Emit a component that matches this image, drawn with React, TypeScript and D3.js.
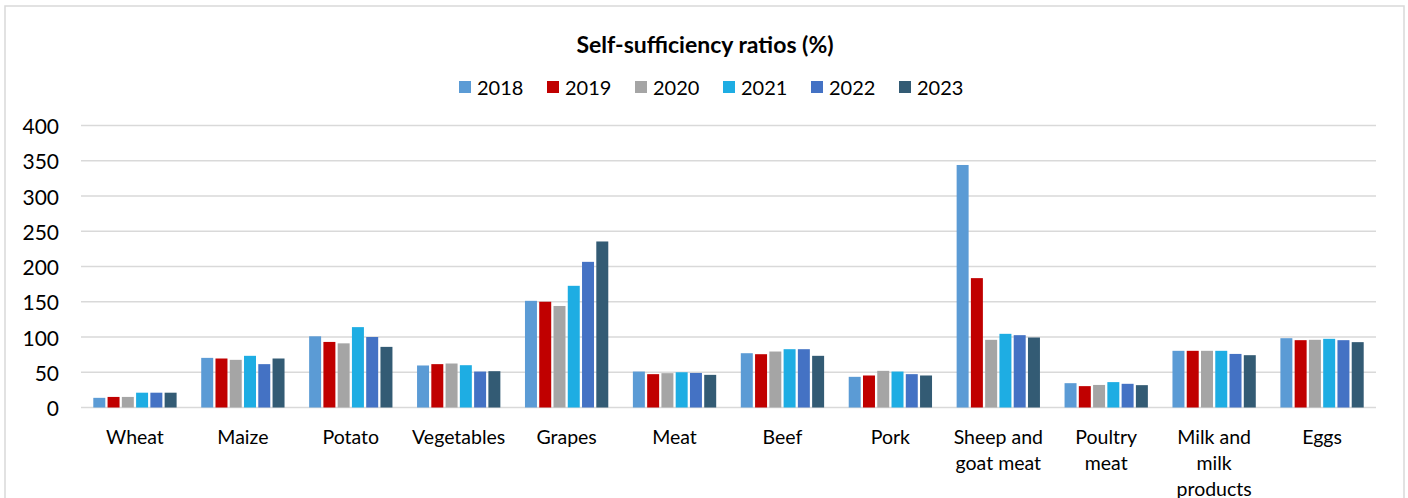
import React from "react";
import * as d3 from "d3";

const categories = [
  "Wheat",
  "Maize",
  "Potato",
  "Vegetables",
  "Grapes",
  "Meat",
  "Beef",
  "Pork",
  "Sheep and\ngoat meat",
  "Poultry\nmeat",
  "Milk and\nmilk\nproducts",
  "Eggs",
];
const years = ["2018", "2019", "2020", "2021", "2022", "2023"];
const v2018 = [13.7, 70.4, 101, 59.6, 151.3, 51, 77, 43.5, 344, 34.5, 80.4, 98.3];
const v2019 = [15, 69.5, 93, 61.5, 150, 47.3, 75.6, 45.4, 183.5, 30.3, 80.4, 95.5];
const v2020 = [15, 67.6, 91, 62.4, 144, 48.7, 79.4, 52, 96, 32, 80.4, 96];
const v2021 = [21, 73.3, 114, 60, 172.6, 50, 82.7, 51, 104.5, 36, 80.4, 97.4];
const v2022 = [21, 61.5, 100, 51, 206.6, 49, 82.7, 47.3, 102.6, 33.6, 76, 95.5];
const v2023 = [21, 69.5, 86, 51.5, 235.5, 46.3, 73.3, 45.4, 99.3, 31.7, 74.2, 92.7];
const series = [v2018, v2019, v2020, v2021, v2022, v2023];
const colors = ["#5B9BD5", "#C00000", "#A5A5A5", "#1EADE3", "#4472C4", "#335B74"];
const yTicks = [0, 50, 100, 150, 200, 250, 300, 350, 400];
const title = "Self-sufficiency ratios (%)";

const W = 1408;
const H = 498;
const FONT = "Lato, 'Open Sans', sans-serif";

export default function App() {
  const plotLeft = 81;
  const plotRight = 1376;
  const y = d3.scaleLinear().domain([0, 400]).range([407.5, 125.5]);
  const x0 = d3
    .scaleBand<string>()
    .domain(categories)
    .range([plotLeft, plotRight])
    .paddingInner(0.228)
    .paddingOuter(0.114);
  const x1 = d3
    .scaleBand<string>()
    .domain(years)
    .range([0, x0.bandwidth()])
    .paddingInner(0.16)
    .paddingOuter(0);

  const legendStep = 88;
  const legendStart = 459;

  return (
    <svg
      width={W}
      height={H}
      style={{ position: "absolute", left: 0, top: 0, background: "#fff" }}
      fontFamily={FONT}
    >
      <rect x={5} y={6} width={1399} height={600} fill="#fff" stroke="#D9D9D9" strokeWidth={1.5} />
      <text x={705} y={44} textAnchor="middle" dominantBaseline="central" fontSize={23} fontWeight="bold" fill="#000">
        {title}
      </text>
      {years.map((yr, i) => (
        <g key={yr} transform={`translate(${legendStart + i * legendStep},87)`}>
          <rect x={0} y={-6} width={12} height={12} fill={colors[i]} />
          <text x={18} y={0} dominantBaseline="central" fontSize={20} fill="#000">
            {yr}
          </text>
        </g>
      ))}
      {yTicks.map((t) => (
        <g key={t}>
          <line x1={plotLeft} x2={plotRight} y1={y(t)} y2={y(t)} stroke="#D9D9D9" strokeWidth={1.5} />
          <text x={59} y={y(t)} textAnchor="end" dominantBaseline="central" fontSize={21} fill="#000">
            {t}
          </text>
        </g>
      ))}
      {categories.map((c, ci) => (
        <g key={c} transform={`translate(${x0(c)},0)`}>
          {years.map((yr, si) => {
            const v = series[si][ci];
            return (
              <rect
                key={yr}
                x={x1(yr)}
                y={y(v)}
                width={x1.bandwidth()}
                height={y(0) - y(v)}
                fill={colors[si]}
              />
            );
          })}
          {c.split("\n").map((line, li) => (
            <text
              key={li}
              x={x0.bandwidth() / 2}
              y={436 + li * 26}
              textAnchor="middle"
              dominantBaseline="central"
              fontSize={19.5}
              fill="#000"
            >
              {line}
            </text>
          ))}
        </g>
      ))}
    </svg>
  );
}
